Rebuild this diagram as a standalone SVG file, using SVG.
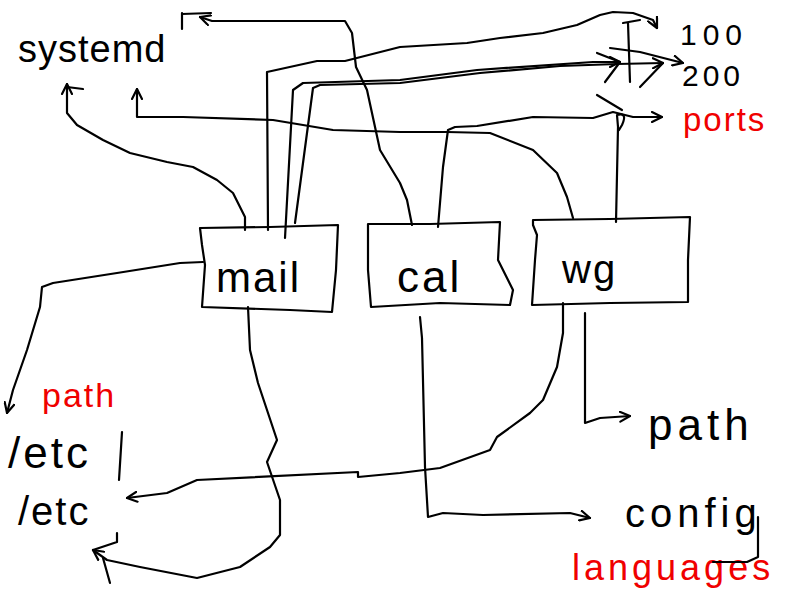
<svg xmlns="http://www.w3.org/2000/svg" width="800" height="600" viewBox="0 0 800 600">
<style>
.ln{fill:none;stroke:#000;stroke-width:2.2;stroke-linecap:round;stroke-linejoin:round}
.bx{fill:none;stroke:#000;stroke-width:2.2;stroke-linejoin:round}
.t{font-family:"Liberation Sans",Arial,sans-serif;fill:#000}
.r{fill:#f00000}
</style>
<defs>
<marker id="ah" viewBox="0 0 12 12" refX="11" refY="6" markerWidth="12" markerHeight="12" markerUnits="userSpaceOnUse" orient="auto">
<path d="M1,1 L11,6 L1,11" fill="none" stroke="#000" stroke-width="2.2" stroke-linecap="round" stroke-linejoin="round"/>
</marker>
</defs>
<rect width="800" height="600" fill="#fff"/>

<g id="systemd"><text class="t" x="18" y="62" font-size="38" letter-spacing="1">systemd</text></g>
<g id="n100"><text class="t" x="680" y="45" font-size="30" letter-spacing="6">100</text></g>
<g id="n200"><text class="t" x="682" y="86" font-size="30" letter-spacing="4">200</text></g>
<g id="ports"><text class="t r" x="683" y="131" font-size="33" letter-spacing="2">ports</text></g>

<g id="mail">
<path class="bx" d="M200,228 L270,227 L338,225 L336,270 L332,312 L290,310 L202,307 L205,265 L202,245 Z"/>
<text class="t" x="216" y="292" font-size="42" letter-spacing="2">mail</text>
</g>
<g id="cal">
<path class="bx" d="M368,224 L430,224 L500,222 L498,260 L513,290 L510,305 L440,303 L371,307 L368,270 Z"/>
<text class="t" x="397" y="292" font-size="44" letter-spacing="3">cal</text>
</g>
<g id="wg">
<path class="bx" d="M533,220 L610,219 L690,217 L688,260 L688,302 L610,303 L532,305 L535,260 L537,235 L533,225 Z"/>
<text class="t" x="562" y="283" font-size="40" letter-spacing="2">wg</text>
</g>

<g id="path-red"><text class="t r" x="42" y="407" font-size="34" letter-spacing="2">path</text></g>
<g id="etc1"><text class="t" x="8" y="468" font-size="44" letter-spacing="3">/etc</text><path class="ln" d="M122,432 L119,480"/></g>
<g id="etc2"><text class="t" x="18" y="525" font-size="40" letter-spacing="2">/etc</text></g>
<g id="path-black"><text class="t" x="648" y="440" font-size="44" letter-spacing="5">path</text></g>
<g id="config"><text class="t" x="625" y="527" font-size="40" letter-spacing="5">config</text></g>
<g id="languages"><text class="t r" x="572" y="580" font-size="36" letter-spacing="4">languages</text></g>

<g id="connectors">
<path class="ln" d="M412,225 L407,200 L400,183 L380,150 L367,90 L356,67 L352,33 L345,21 L212,21 L200,17" marker-end="url(#ah)"/>
<path class="ln" d="M182,13 L182,29 M182,14 L211,13"/>
<path class="ln" d="M245,230 L245,217 L233,193 L217,180 L193,167 L167,162 L130,153 L103,140 L77,125 L67,113 L67,84" marker-end="url(#ah)"/>
<path class="ln" d="M67,87 L83,89"/>
<path class="ln" d="M268,230 L267,72 L317,61 L345,61 L400,47 L467,43 L500,38 L543,33 L577,25 L600,15 L613,12 L633,13 L653,20 L657,28" marker-end="url(#ah)"/>
<path class="ln" d="M628,23 L630,82 M623,23 L640,20"/>
<path class="ln" d="M285,238 L293,90 L303,83 L400,80 L477,70 L593,62 L620,62" marker-end="url(#ah)"/>
<path class="ln" d="M295,223 L313,88 L320,85 L400,83 L480,73 L560,66 L617,64 L663,63" marker-end="url(#ah)"/>
<path class="ln" d="M610,48 L640,52 L683,63" marker-end="url(#ah)"/>
<path class="ln" d="M597,53 L620,62 L605,82 M640,87 L663,63"/>
<path class="ln" d="M573,218 L567,197 L557,173 L533,150 L490,133 L447,132 L400,132 L333,130 L273,120 L183,117 L137,117 L137,89" marker-end="url(#ah)"/>
<path class="ln" d="M438,227 L443,167 L448,130 L455,127 L477,126 L533,117 L593,118 L613,112 L633,117 L662,117" marker-end="url(#ah)"/>
<path class="ln" d="M616,222 L618,127 L617,115 Q628,112 622,125 L619,130"/>
<path class="ln" d="M597,95 L622,110"/>
<path class="ln" d="M203,262 L180,263 L117,273 L53,283 L42,287 L40,307 L27,350 L13,390 L7,413" marker-end="url(#ah)"/>
<path class="ln" d="M563,303 L563,333 L557,367 L543,400 L530,413 L497,437 L490,450 L440,468 L400,473 L358,477 L358,472 L197,480 L167,493 L127,498" marker-end="url(#ah)"/>
<path class="ln" d="M248,307 L250,350 L258,383 L277,440 L267,462 L280,500 L280,535 L270,547 L240,567 L197,578 L140,567 L107,560 L93,550" marker-end="url(#ah)"/>
<path class="ln" d="M117,533 L117,542 L93,550 M110,583 L103,558"/>
<path class="ln" d="M420,317 L422,338 L425,467 L428,517 L443,513 L483,515 L570,513 L590,518" marker-end="url(#ah)"/>
<path class="ln" d="M585,313 L585,423 L600,418 L630,416" marker-end="url(#ah)"/>
<path class="ln" d="M758,517 L758,557 L747,562 L713,562"/>
</g>
</svg>
